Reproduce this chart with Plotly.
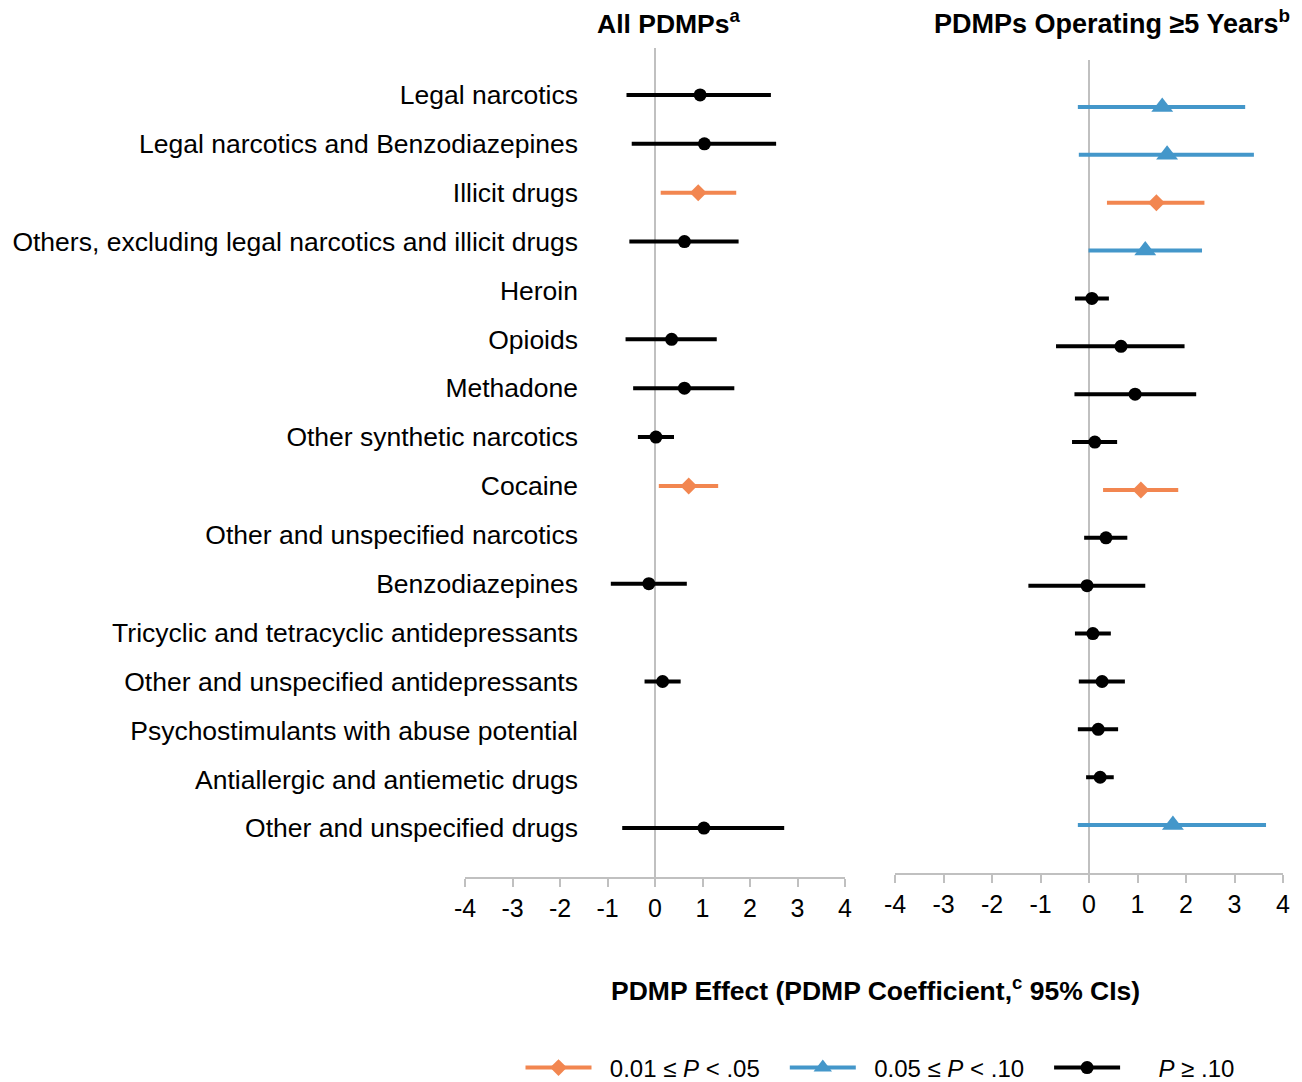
import plotly.graph_objects as go

categories = [
    "Legal narcotics",
    "Legal narcotics and Benzodiazepines",
    "Illicit drugs",
    "Others, excluding legal narcotics and illicit drugs",
    "Heroin",
    "Opioids",
    "Methadone",
    "Other synthetic narcotics",
    "Cocaine",
    "Other and unspecified narcotics",
    "Benzodiazepines",
    "Tricyclic and tetracyclic antidepressants",
    "Other and unspecified antidepressants",
    "Psychostimulants with abuse potential",
    "Antiallergic and antiemetic drugs",
    "Other and unspecified drugs",
]

# All PDMPs
left_est = [0.95, 1.04, 0.91, 0.62, None, 0.35, 0.62, 0.02, 0.71, None, -0.13, None, 0.16, None, None, 1.03]
left_lo = [-0.60, -0.49, 0.12, -0.54, None, -0.62, -0.46, -0.36, 0.08, None, -0.93, None, -0.22, None, None, -0.69]
left_hi = [2.44, 2.55, 1.71, 1.76, None, 1.30, 1.67, 0.40, 1.33, None, 0.67, None, 0.54, None, None, 2.72]
left_sig = ["ns", "ns", "p05", "ns", None, "ns", "ns", "ns", "p05", None, "ns", None, "ns", None, None, "ns"]

# PDMPs operating >=5 years
right_est = [1.51, 1.61, 1.39, 1.16, 0.06, 0.66, 0.95, 0.12, 1.07, 0.35, -0.04, 0.08, 0.27, 0.19, 0.23, 1.73]
right_lo = [-0.23, -0.21, 0.37, -0.01, -0.29, -0.68, -0.30, -0.35, 0.29, -0.10, -1.25, -0.29, -0.21, -0.23, -0.06, -0.23]
right_hi = [3.22, 3.40, 2.38, 2.33, 0.41, 1.97, 2.21, 0.58, 1.84, 0.79, 1.16, 0.45, 0.74, 0.60, 0.51, 3.65]
right_sig = ["p10", "p10", "p05", "p10", "ns", "ns", "ns", "ns", "p05", "ns", "ns", "ns", "ns", "ns", "ns", "p10"]

x_ticks = [-4, -3, -2, -1, 0, 1, 2, 3, 4]

NB = "\u00a0"
groups = {
    "p05": dict(name=NB * 2 + "0.01 \u2264 <i>P</i> &lt; .05" + NB * 3, color="#F28650", symbol="diamond", size=13),
    "p10": dict(name=NB * 2 + "0.05 \u2264 <i>P</i> &lt; .10" + NB * 3, color="#4497CA", symbol="triangle-up", size=19),
    "ns": dict(name=NB * 5 + "<i>P</i> \u2265 .10", color="#000000", symbol="circle", size=13),
}

FONT = "Liberation Sans, Arial, sans-serif"
fig = go.Figure()


def add_panel(est, lo, hi, sig, xa, ya):
    for key, g in groups.items():
        idx = [i for i, s in enumerate(sig) if s == key]
        if not idx:
            continue
        fig.add_trace(go.Scatter(
            x=[est[i] for i in idx],
            y=idx,
            mode="markers",
            marker=dict(color=g["color"], symbol=g["symbol"], size=g["size"], line=dict(width=0)),
            error_x=dict(type="data", symmetric=False,
                         array=[hi[i] - est[i] for i in idx],
                         arrayminus=[est[i] - lo[i] for i in idx],
                         thickness=4, width=0, color=g["color"]),
            xaxis=xa, yaxis=ya, showlegend=False, hoverinfo="x+y",
        ))


add_panel(left_est, left_lo, left_hi, left_sig, "x", "y")
add_panel(right_est, right_lo, right_hi, right_sig, "x2", "y2")

# legend entries
for key in ["p05", "p10", "ns"]:
    g = groups[key]
    fig.add_trace(go.Scatter(
        x=[None], y=[None], mode="lines+markers", name=g["name"],
        line=dict(color=g["color"], width=4),
        marker=dict(color=g["color"], symbol=g["symbol"], size=g["size"]),
        xaxis="x", yaxis="y", showlegend=True,
    ))

# body margin is removed by post_script, so page pixels map directly to paper
W, H = 1302, 1082


def fx(px):
    return px / W


def fy(py):
    return 1 - py / H


xax_common = dict(
    range=[-4, 4], tickvals=x_ticks, ticktext=[str(t) for t in x_ticks],
    showgrid=False, zeroline=True, zerolinecolor="#C0C0C0", zerolinewidth=2,
    showline=True, linecolor="#C0C0C0", linewidth=1.5,
    ticks="outside", ticklen=8, tickwidth=1.5, tickcolor="#C0C0C0",
    tickfont=dict(family=FONT, size=25, color="#000000"), fixedrange=True,
)

fig.update_layout(
    width=W, height=H,
    margin=dict(l=0, r=0, t=0, b=0, autoexpand=False),
    paper_bgcolor="white", plot_bgcolor="white",
    font=dict(family=FONT, color="#000000"),
    xaxis=dict(domain=[fx(465), fx(845)], anchor="y", **xax_common),
    xaxis2=dict(domain=[fx(895), fx(1283)], anchor="y2", **xax_common),
    yaxis=dict(
        domain=[fy(877), fy(48)], range=[16.0, -0.96],
        anchor="free", position=fx(578), side="left",
        tickvals=list(range(len(categories))), ticktext=categories,
        ticks="", showgrid=False, zeroline=False, showline=False,
        tickfont=dict(family=FONT, size=26.5, color="#000000"), fixedrange=True,
    ),
    yaxis2=dict(
        domain=[fy(873), fy(60)], range=[16.0, -0.98], anchor="x2",
        showticklabels=False, ticks="", showgrid=False, zeroline=False, showline=False,
        fixedrange=True,
    ),
    legend=dict(
        orientation="h", x=fx(880), xanchor="center", y=fy(1068), yanchor="middle",
        font=dict(family=FONT, size=24, color="#000000"), itemwidth=66,
        bgcolor="rgba(0,0,0,0)",
    ),
    annotations=[
        dict(text="<b>All PDMPs<sup>a</sup></b>", x=fx(669), y=fy(22), xref="paper", yref="paper",
             showarrow=False, xanchor="center", yanchor="middle",
             font=dict(family=FONT, size=26.5, color="#000000")),
        dict(text="<b>PDMPs Operating \u22655 Years<sup>b</sup></b>", x=fx(1112), y=fy(22),
             xref="paper", yref="paper", showarrow=False, xanchor="center", yanchor="middle",
             font=dict(family=FONT, size=27, color="#000000")),
        dict(text="<b>PDMP Effect (PDMP Coefficient,<sup>c</sup> 95% CIs)</b>", x=fx(875), y=fy(989),
             xref="paper", yref="paper", showarrow=False, xanchor="center", yanchor="middle",
             font=dict(family=FONT, size=26.5, color="#000000")),
    ],
)

fig.write_html(
    "out.html",
    config={"displayModeBar": False, "staticPlot": False},
    post_script="document.body.style.margin='0';document.body.style.overflow='hidden';",
)
